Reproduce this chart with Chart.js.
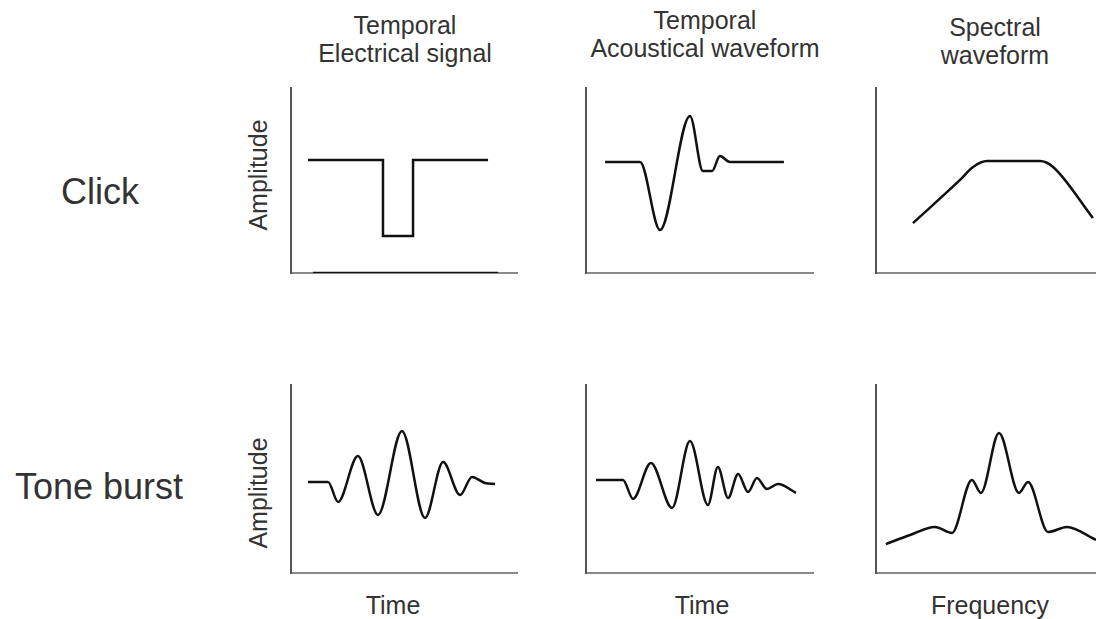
<!DOCTYPE html>
<html lang="en">
<head>
    <meta charset="UTF-8">
    <title>Click and tone burst waveforms</title>
    <script src="https://cdn.jsdelivr.net/npm/chart.js"></script>
    <style>
        body { margin: 0; width: 1096px; height: 619px; overflow: hidden; background: #fff; position: relative; }
        .lbl { position: absolute; font-family: "Liberation Sans", Arial, sans-serif; color: #333; white-space: nowrap; transform: translate(-50%, -50%); text-align: center; font-size: 25px; }
        .row { font-size: 36px; }
        .panel { position: absolute; }
    </style>
</head>
<body>
    <div class="lbl" style="left:405px; top:25px;">Temporal</div>
    <div class="lbl" style="left:405px; top:53px;">Electrical signal</div>
    <div class="lbl" style="left:705px; top:20px;">Temporal</div>
    <div class="lbl" style="left:705px; top:48px;">Acoustical waveform</div>
    <div class="lbl" style="left:995px; top:27px;">Spectral</div>
    <div class="lbl" style="left:995px; top:55px;">waveform</div>

    <div class="lbl row" style="left:100px; top:192px;">Click</div>
    <div class="lbl row" style="left:99px; top:487px;">Tone burst</div>

    <div class="lbl" style="left:258px; top:175px; transform: translate(-50%, -50%) rotate(-90deg);">Amplitude</div>
    <div class="lbl" style="left:258px; top:493px; transform: translate(-50%, -50%) rotate(-90deg);">Amplitude</div>

    <div class="lbl" style="left:393px; top:605px;">Time</div>
    <div class="lbl" style="left:702px; top:605px;">Time</div>
    <div class="lbl" style="left:990px; top:605px;">Frequency</div>

    <div class="panel" style="left:289px; top:86px;"><canvas id="p1" width="230" height="189"></canvas></div>
    <div class="panel" style="left:584px; top:86px;"><canvas id="p2" width="231" height="189"></canvas></div>
    <div class="panel" style="left:874px; top:86px;"><canvas id="p3" width="224" height="189"></canvas></div>
    <div class="panel" style="left:289px; top:383px;"><canvas id="p4" width="230" height="192"></canvas></div>
    <div class="panel" style="left:584px; top:383px;"><canvas id="p5" width="231" height="192"></canvas></div>
    <div class="panel" style="left:874px; top:383px;"><canvas id="p6" width="224" height="192"></canvas></div>

    <script>
        // values, x and y both in 0..100 of each panel
        var clickElecX = [7.5, 40.7, 40.7, 54.0, 54.0, 87.2];
        var clickElecY = [61.1, 61.1, 20.0, 20.0, 61.1, 61.1];
        var clickZeroX = [9.7, 91.6];
        var clickZeroY = [0, 0];

        var clickAcouX = [8.4, 23.8, 32.6, 45.8, 51.5, 55.5, 59.0, 63.4, 87.2];
        var clickAcouY = [60.0, 60.0, 23.2, 84.9, 55.1, 55.1, 63.2, 60.0, 60.0];

        var clickSpecX = [16.8, 38.2, 44.1, 50.5, 74.5, 80.5, 98.6];
        var clickSpecY = [27.0, 50.3, 57.3, 60.5, 60.5, 57.3, 29.7];

        var toneElecX = [7.5, 16.4, 20.8, 29.6, 38.5, 49.1, 59.3, 67.3, 74.8, 80.1, 85.8, 90.3];
        var toneElecY = [48.4, 48.4, 37.8, 62.2, 30.9, 75.5, 29.3, 59.0, 41.5, 51.1, 47.9, 47.3];

        var toneAcouX = [4.4, 16.3, 20.7, 28.6, 37.9, 45.8, 53.7, 58.1, 62.6, 67.0, 71.4, 75.3, 79.7, 84.6, 92.5];
        var toneAcouY = [49.5, 49.5, 39.4, 58.5, 34.6, 70.2, 36.2, 56.4, 39.9, 52.7, 43.1, 50.5, 44.7, 47.3, 42.6];

        var toneSpecX = [4.5, 15.5, 26.8, 34.5, 43.6, 47.7, 55.9, 65.0, 69.1, 78.2, 86.8, 100];
        var toneSpecY = [15.4, 20.2, 24.5, 21.3, 49.5, 42.6, 74.5, 42.6, 48.4, 21.8, 24.5, 17.6];

        function pts(xs, ys) {
            return xs.map(function (x, i) { return { x: x, y: ys[i] }; });
        }

        function lineSet(xs, ys, smooth) {
            return {
                data: pts(xs, ys),
                borderColor: '#111',
                borderWidth: 2.5,
                pointRadius: 0,
                fill: false,
                tension: 0,
                cubicInterpolationMode: smooth ? 'monotone' : 'default'
            };
        }

        function axis(col) {
            return {
                type: 'linear',
                min: 0,
                max: 100,
                grid: { display: false, drawTicks: false },
                ticks: { display: false },
                border: { display: true, color: col, width: 2 }
            };
        }

        function makePanel(id, datasets) {
            new Chart(document.getElementById(id), {
                type: 'line',
                data: { datasets: datasets },
                options: {
                    responsive: false,
                    animation: false,
                    devicePixelRatio: 1,
                    layout: { padding: 2 },
                    plugins: { legend: { display: false }, tooltip: { enabled: false } },
                    scales: { x: axis('#8a8a8a'), y: axis('#555') }
                }
            });
        }

        makePanel('p1', [lineSet(clickElecX, clickElecY, false), lineSet(clickZeroX, clickZeroY, false)]);
        makePanel('p2', [lineSet(clickAcouX, clickAcouY, true)]);
        makePanel('p3', [lineSet(clickSpecX, clickSpecY, true)]);
        makePanel('p4', [lineSet(toneElecX, toneElecY, true)]);
        makePanel('p5', [lineSet(toneAcouX, toneAcouY, true)]);
        makePanel('p6', [lineSet(toneSpecX, toneSpecY, true)]);
    </script>
</body>
</html>
